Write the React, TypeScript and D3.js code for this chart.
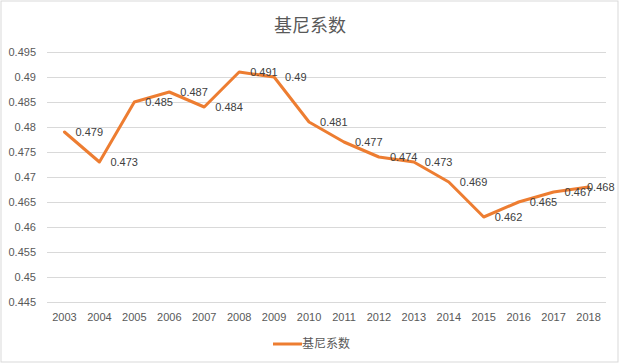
import React from "react";
import * as d3 from "d3";

const title = "基尼系数";
const years = ["2003", "2004", "2005", "2006", "2007", "2008", "2009", "2010", "2011", "2012", "2013", "2014", "2015", "2016", "2017", "2018"];
const gini = [0.479, 0.473, 0.485, 0.487, 0.484, 0.491, 0.49, 0.481, 0.477, 0.474, 0.473, 0.469, 0.462, 0.465, 0.467, 0.468];
const yTicks = [0.445, 0.45, 0.455, 0.46, 0.465, 0.47, 0.475, 0.48, 0.485, 0.49, 0.495];

const W = 620,
  H = 364;
const plot = { left: 47, right: 606, top: 52, bottom: 302 };
const textColor = "#595959";
const lineColor = "#ED7D31";
const font = "'Liberation Sans', Arial, sans-serif";
const cjk = "'Noto Sans CJK SC', 'Noto Sans', sans-serif";

export default function App() {
  const x = d3.scaleBand<string>().domain(years).range([plot.left, plot.right]);
  const y = d3.scaleLinear().domain([0.445, 0.495]).range([plot.bottom, plot.top]);
  const cx = (d: string) => (x(d) ?? 0) + x.bandwidth() / 2;

  const line = d3
    .line<number>()
    .x((_, i) => cx(years[i]))
    .y((d) => y(d));

  const fmt = (v: number) => String(+v.toFixed(3));

  return (
    <svg width={W} height={H} style={{ position: "absolute", left: 0, top: 0, background: "#fff" }}>
      <rect x={1} y={1} width={617} height={361} fill="#fff" stroke="#d9d9d9" strokeWidth={1} />
      <text x={310} y={32} textAnchor="middle" fontFamily={cjk} fontSize={18} fill={textColor}>
        {title}
      </text>

      {yTicks.map((t) => (
        <g key={t}>
          <line x1={plot.left} x2={plot.right} y1={Math.round(y(t)) + 0.5} y2={Math.round(y(t)) + 0.5} stroke="#d9d9d9" strokeWidth={1} />
          <text x={36} y={y(t)} dy="0.35em" textAnchor="end" fontFamily={font} fontSize={11} fill={textColor}>
            {fmt(t)}
          </text>
        </g>
      ))}

      {years.map((yr) => (
        <text key={yr} x={cx(yr)} y={317} dy="0.35em" textAnchor="middle" fontFamily={font} fontSize={11} fill={textColor}>
          {yr}
        </text>
      ))}

      <path d={line(gini) ?? ""} fill="none" stroke={lineColor} strokeWidth={3} strokeLinejoin="round" strokeLinecap="round" />

      {gini.map((v, i) => {
        const px = cx(years[i]) + 11;
        const lx = Math.min(px, 614 - 27);
        return (
          <text key={i} x={lx} y={y(v)} dy="0.35em" fontFamily={font} fontSize={11} fill="#404040">
            {fmt(v)}
          </text>
        );
      })}

      <line x1={273} x2={302} y1={344} y2={344} stroke={lineColor} strokeWidth={3} />
      <text x={302} y={344} dy="0.35em" fontFamily={cjk} fontSize={12} fill={textColor}>
        {title}
      </text>
    </svg>
  );
}
